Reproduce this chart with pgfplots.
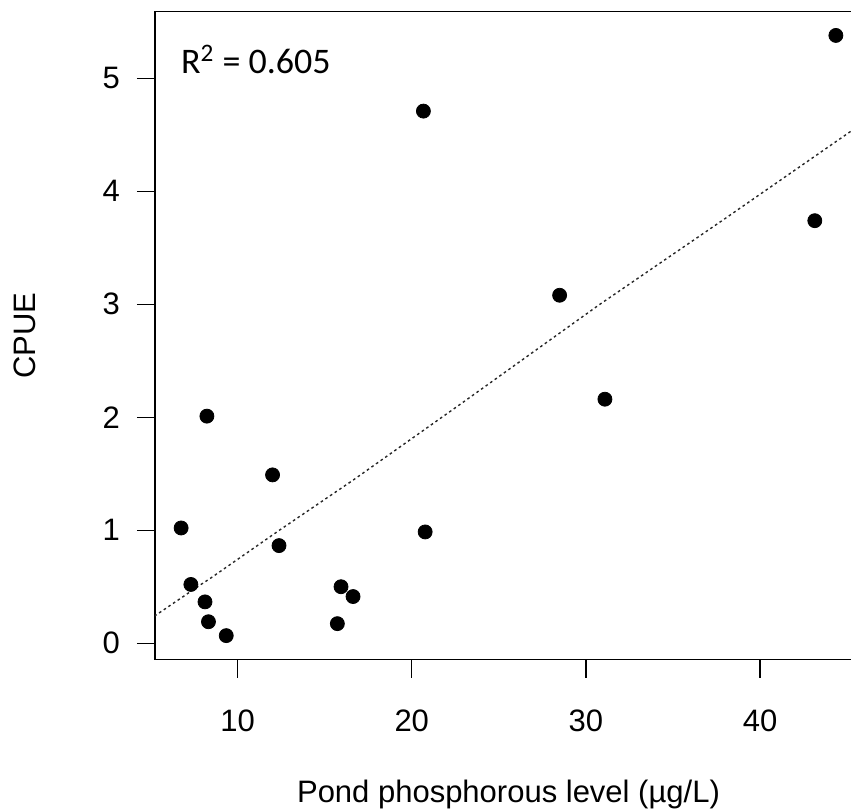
\documentclass[border=0pt]{standalone}
\usepackage{pgfplots}
\pgfplotsset{compat=1.18}
\usepackage{fontspec}
\setmainfont{Liberation Sans}
\newfontfamily\calibri{Carlito}
\begin{document}
\begin{tikzpicture}
\begin{axis}[
  scale only axis, width=353.5pt, height=324pt,
  xmin=5.26, xmax=45.85, ymin=-0.146, ymax=5.59,
  xtick={10,20,30,40}, ytick={0,1,2,3,4,5},
  xtick pos=lower, ytick pos=left,
  tick align=outside, major tick length=9pt,
  tick style={black, line width=0.7pt},
  axis line style={line width=0.7pt},
  /pgf/number format/assume math mode=true,
  ticklabel style={font=\fontsize{15.5}{18}\selectfont},
  xticklabel style={anchor=north, yshift=-12.5pt},
  yticklabel style={anchor=east, xshift=-5pt},
  label style={font=\fontsize{15.5}{18}\selectfont},
  xlabel={Pond phosphorous level (µg/L)},
  ylabel={CPUE},
  xlabel style={at={(axis description cs:0.5,-0.2083)}, anchor=center},
  ylabel style={at={(axis description cs:-0.184,0.5)}, anchor=center, rotate=0},
  clip=true,
]
\addplot[only marks, mark=*, mark size=3.5pt, black] coordinates {
(8.24,2.01) (12.01,1.49) (6.76,1.02) (12.38,0.864) (20.77,0.985)
(7.32,0.52) (8.13,0.366) (8.33,0.19) (9.35,0.067) (15.94,0.50)
(16.63,0.413) (15.73,0.173) (20.67,4.71) (28.49,3.08) (31.09,2.16)
(44.35,5.38) (43.14,3.74)
};
\addplot[black!85, line width=0.7pt, dash pattern=on 1.3pt off 1.5pt] coordinates {
(5.23,0.24) (7.9,0.52) (8.4,0.57) (12.4,1.0) (16.6,1.44) (22.74,2.11)
(30.8,3.0) (38.0,3.76) (45.85,4.60)
};
\node[anchor=west, font=\calibri\fontsize{18}{21}\selectfont] at (axis description cs:0.027,0.926) {R\textsuperscript{2} = 0.605};
\end{axis}
\pgfresetboundingbox
\useasboundingbox ([xshift=-77.5pt,yshift=-74.5pt]current axis.south west) rectangle ([xshift=348pt,yshift=5.85pt]current axis.north west);
\end{tikzpicture}
\end{document}
